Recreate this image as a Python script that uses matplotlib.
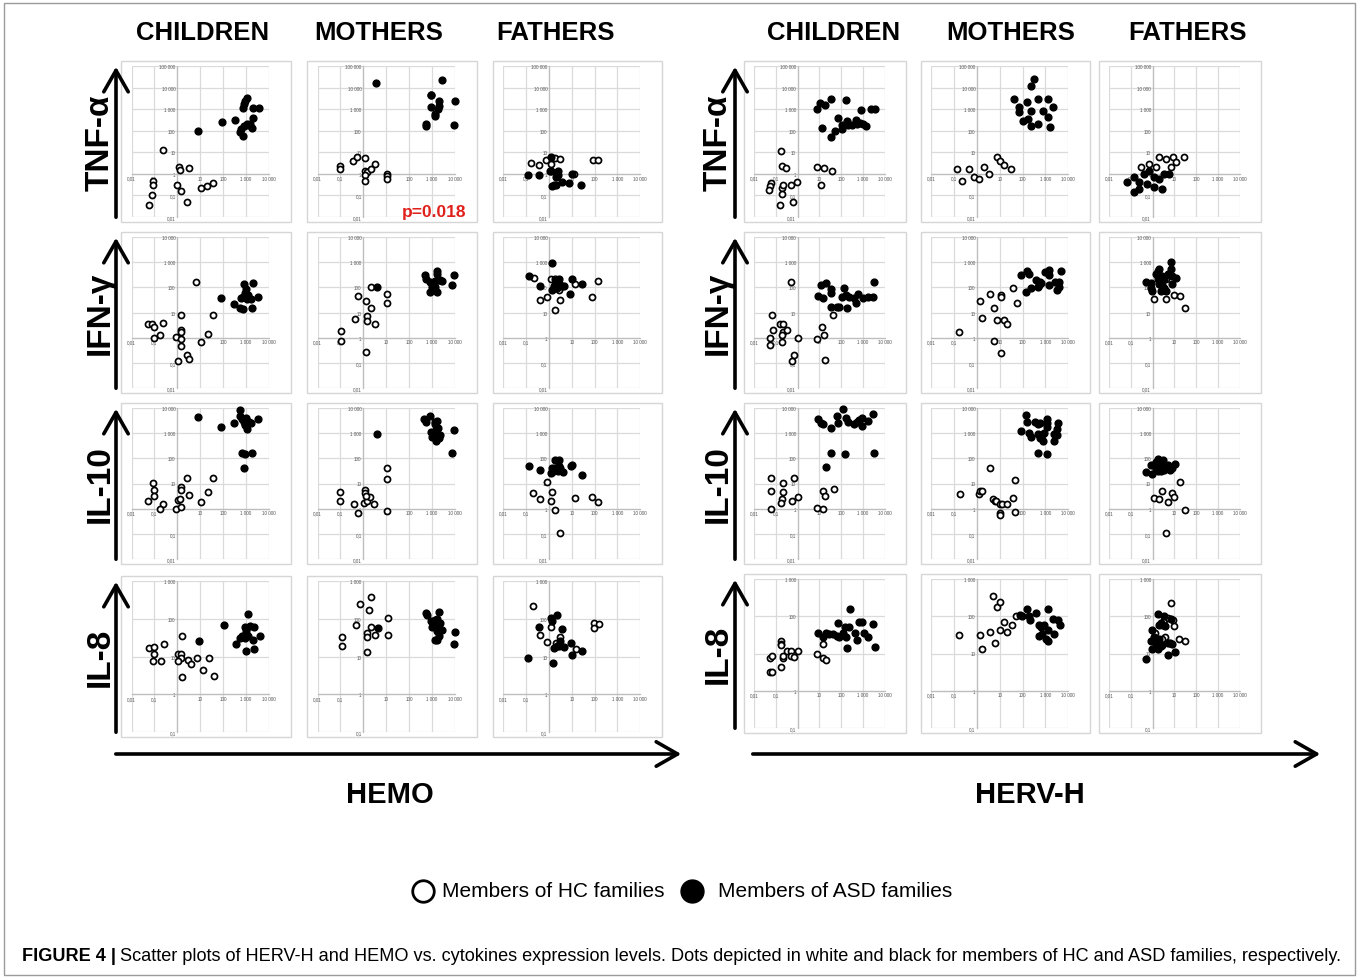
import matplotlib
matplotlib.use("Agg")
import matplotlib.pyplot as plt
from matplotlib.patches import Rectangle, FancyArrowPatch
from matplotlib.lines import Line2D
from matplotlib.ticker import NullLocator

plt.rcParams['font.family'] = ['Liberation Sans', 'DejaVu Sans']

# (HEMO or HERV-H expression, cytokine expression) for each subject
# --- HEMO ---
hemo_children_tnf_hc = [(0.23, 12.5), (1.2, 2.0), (1.3, 1.5), (3.3, 1.8), (0.09, 0.46), (0.09, 0.29), (0.08, 0.11),
                        (0.058, 0.035), (0.93, 0.30), (1.4, 0.16), (2.6, 0.049), (11, 0.21), (20, 0.27), (37, 0.36)]
hemo_children_tnf_asd = [(7.8, 100), (93, 250), (330, 320), (1100, 3300), (950, 2500), (800, 1800), (760, 1150),
                         (2100, 1150), (3800, 1150), (1950, 400), (1070, 195), (810, 160), (1500, 195), (1800, 135),
                         (590, 115), (550, 90), (760, 56), (1250, 175)]
hemo_mothers_tnf_hc = [(0.1, 2.4), (0.1, 1.7), (0.36, 3.8), (0.55, 6.3), (1.2, 5.5), (1.2, 1.4), (1.5, 1.2), (2.1, 1.7),
                       (3.2, 2.8), (1.2, 0.84), (1.2, 0.48), (11, 1.0), (11, 0.8), (11, 0.6)]
hemo_mothers_tnf_asd = [(3.7, 16000), (2750, 22000), (870, 4600), (950, 4600), (930, 1300), (1950, 2400), (1950, 1400),
                        (1800, 1000), (1300, 590), (1400, 500), (560, 200), (520, 170), (9300, 180), (10000, 2400)]
hemo_fathers_tnf_hc = [(0.17, 3.2), (0.36, 2.6), (0.76, 4.5), (1.2, 2.9), (1.8, 5.3), (2.9, 5.0), (13, 1.0), (83, 4.2),
                       (140, 4.2)]
hemo_fathers_tnf_asd = [(0.12, 0.84), (0.36, 0.84), (1.26, 6.3), (1.07, 1.4), (1.25, 1.3), (2.5, 1.3), (2.5, 0.84),
                        (2.1, 0.7), (1.6, 0.29), (2.1, 0.29), (3.8, 0.44), (7.9, 0.38), (10, 1.0), (26, 0.29), (1.4, 0.28)]

hemo_children_ifn_hc = [(6.6, 160), (0.055, 3.4), (0.078, 3.6), (0.093, 2.6), (0.24, 3.8), (0.093, 0.97), (0.17, 1.3),
                        (1.4, 7.6), (1.4, 2.1), (1.4, 1.7), (0.9, 1.03), (1.4, 0.91), (1.4, 0.47), (1.07, 0.12),
                        (2.6, 0.2), (3.3, 0.14), (11, 0.67), (21, 1.35), (35, 7.6)]
hemo_children_ifn_asd = [(84, 37), (300, 22), (530, 15.5), (760, 14), (810, 138), (960, 87), (1950, 150), (760, 41),
                         (960, 41), (1230, 50), (1150, 35), (1600, 33), (3500, 43), (1800, 15.5), (600, 37), (860, 60)]
hemo_mothers_ifn_hc = [(0.11, 1.8), (0.11, 0.74), (0.42, 5.3), (0.6, 47), (1.3, 28), (1.4, 7.0), (1.5, 4.8),
                       (2.1, 15.5), (2.1, 100), (3.3, 3.6), (11, 52), (11, 24), (1.3, 0.26)]
hemo_mothers_ifn_asd = [(4.0, 100), (480, 320), (570, 220), (1600, 460), (1600, 350), (810, 160), (960, 100), (810, 68),
                        (1400, 185), (1900, 200), (2300, 190), (1600, 68), (1300, 100), (9300, 320), (7800, 125),
                        (2700, 185)]
hemo_fathers_ifn_hc = [(0.21, 230), (0.39, 32), (0.78, 41), (1.2, 205), (1.9, 13), (2.9, 32), (14, 137), (145, 175),
                       (80, 41), (2.8, 75)]
hemo_fathers_ifn_asd = [(0.13, 275), (0.39, 117), (1.3, 900), (1.3, 75), (1.7, 117), (2.2, 160), (2.8, 218),
                        (2.8, 137), (1.9, 218), (3.7, 117), (4.5, 110), (2.2, 93), (1.6, 93), (10, 218), (8.1, 55),
                        (28, 137)]

hemo_children_il10_hc = [(0.084, 10.6), (0.093, 5.4), (0.093, 3.1), (0.055, 2.0), (0.24, 1.5), (0.17, 0.94),
                         (1.4, 7.3), (1.4, 5.4), (1.07, 2.2), (1.3, 2.5), (0.9, 1.0), (1.4, 1.2), (2.6, 16),
                         (3.4, 3.4), (11, 1.9), (21, 4.6), (35, 16)]
hemo_children_il10_asd = [(8.1, 4300), (84, 1800), (300, 2500), (530, 8600), (530, 4600), (680, 3700), (810, 2900),
                          (960, 3900), (1150, 3100), (1380, 2900), (1600, 2500), (870, 2100), (1070, 1450),
                          (3300, 3600), (680, 165), (870, 150), (1900, 165), (810, 43)]
hemo_mothers_il10_hc = [(0.1, 4.5), (0.1, 2.1), (0.38, 1.5), (0.59, 0.69), (1.2, 5.7), (1.2, 4.2), (1.07, 1.65),
                        (1.4, 2.1), (1.9, 2.9), (3.0, 1.5), (10.5, 43), (10.5, 14.5), (10.5, 0.83), (1.3, 3.1)]
hemo_mothers_il10_asd = [(3.9, 910), (450, 3700), (520, 2900), (810, 5000), (1300, 2900), (1600, 3000), (1300, 2300),
                         (1800, 1550), (1450, 1300), (890, 1070), (960, 710), (1150, 890), (1600, 650), (2300, 830),
                         (2100, 650), (1450, 475), (8700, 1320), (7300, 165)]
hemo_fathers_il10_hc = [(0.19, 4.2), (0.39, 2.4), (0.78, 11), (1.3, 4.6), (1.2, 2.1), (1.9, 0.88), (2.9, 0.107),
                        (13.6, 2.6), (80, 2.9), (148, 1.9)]
hemo_fathers_il10_asd = [(0.13, 48), (0.39, 35), (1.3, 29), (1.6, 35), (1.9, 43), (2.5, 31), (3.2, 43), (4.0, 29),
                         (1.3, 43), (2.8, 50), (1.9, 89), (2.8, 89), (9, 50), (10.7, 52), (28, 22), (1.2, 25)]

hemo_children_il8_hc = [(0.059, 17), (0.1, 18), (0.1, 11.5), (0.091, 7.6), (0.19, 7.6), (0.26, 21), (1.55, 34),
                        (1.1, 12), (1.4, 12), (1.5, 9.2), (1.1, 7.6), (3.0, 8.3), (3.8, 6.5), (7.4, 8.9), (1.55, 2.9),
                        (12.6, 4.3), (25, 8.9), (41, 3.1)]
hemo_children_il8_asd = [(9.1, 26), (107, 70), (355, 22), (1230, 130), (870, 59), (970, 51), (1440, 65), (2150, 60),
                         (1030, 42), (690, 35), (870, 31), (1230, 34), (570, 31), (2000, 28), (4200, 35), (970, 14),
                         (2150, 15.5)]
hemo_mothers_il8_hc = [(0.12, 32), (0.12, 19.5), (0.47, 70), (0.7, 240), (1.5, 13), (1.4, 41), (1.4, 32), (1.75, 175),
                       (2.2, 370), (2.2, 59), (3.4, 37), (11.5, 107), (11.5, 37)]
hemo_mothers_il8_asd = [(4.3, 57), (540, 142), (610, 122), (950, 87), (1120, 76), (1050, 59), (1320, 90), (1550, 70),
                        (1660, 100), (2000, 152), (2000, 57), (1660, 46), (2200, 76), (2800, 50), (1320, 28),
                        (1660, 28), (2000, 35), (9700, 45), (8700, 22)]
hemo_fathers_il8_hc = [(0.19, 220), (0.39, 37), (0.8, 24), (1.2, 62), (1.95, 23), (3.0, 32), (15, 16), (93, 76),
                       (93, 56), (155, 73)]
hemo_fathers_il8_asd = [(0.12, 9), (0.36, 62), (1.26, 105), (1.4, 85), (2.3, 123), (1.65, 17), (2.2, 19.5),
                        (1.55, 6.9), (3.0, 26), (2.75, 19), (3.8, 53), (4.5, 18), (8.9, 23), (10.5, 11), (29, 13.7)]

# --- HERV-H ---
herv_children_tnf_hc = [(0.18, 12), (0.2, 2.2), (0.3, 1.8), (0.057, 0.37), (0.053, 0.26), (0.05, 0.17), (0.19, 0.22),
                        (0.21, 0.29), (0.2, 0.115), (0.15, 0.037), (0.5, 0.29), (0.64, 0.052), (0.93, 0.44),
                        (7.4, 2.0), (16, 1.8), (37, 1.4), (12, 0.31)]
herv_children_tnf_asd = [(7.9, 1000), (11, 2000), (17, 1500), (32, 2900), (160, 2700), (13, 128), (32, 53), (53, 96),
                         (68, 370), (105, 120), (112, 180), (180, 290), (210, 180), (300, 180), (450, 330), (550, 195),
                         (700, 230), (1000, 200), (1400, 165), (840, 900), (2400, 1000), (3500, 1070)]
herv_mothers_tnf_hc = [(0.135, 1.7), (0.22, 0.48), (0.74, 0.72), (2.0, 2.1), (3.3, 1.0), (7.4, 6.2), (10, 4.0),
                       (15, 2.6), (30, 1.7), (0.45, 1.7), (1.2, 0.6)]
herv_mothers_tnf_asd = [(330, 25000), (245, 12000), (41, 3000), (67, 1260), (150, 2100), (500, 3000), (1350, 3000),
                        (2200, 1260), (820, 830), (245, 830), (67, 740), (110, 280), (1350, 440), (500, 205),
                        (1650, 150), (245, 166), (180, 350)]
herv_fathers_tnf_hc = [(1.9, 6.2), (4.3, 4.9), (9, 6.2), (26, 6.2), (0.66, 2.9), (1.4, 2.1), (0.28, 2.1), (6.6, 2.1),
                       (12, 3.6)]
herv_fathers_tnf_asd = [(0.066, 0.43), (0.14, 0.73), (0.23, 0.43), (0.39, 1.0), (0.66, 1.4), (1.1, 0.73), (1.9, 0.59),
                        (3.2, 1.0), (5.4, 1.0), (0.53, 0.34), (1.1, 0.25), (2.6, 0.2), (0.23, 0.2), (0.14, 0.15)]

herv_children_ifn_hc = [(0.066, 7.8), (0.071, 2.0), (0.055, 1.0), (0.055, 0.49), (0.16, 3.6), (0.21, 3.6), (0.21, 1.7),
                        (0.32, 2.0), (0.19, 1.3), (0.19, 0.67), (0.5, 170), (1.0, 0.98), (0.68, 0.2), (0.53, 0.12),
                        (7.8, 0.91), (13.7, 2.7), (16, 1.3), (17, 0.135), (42, 7.8)]
herv_children_ifn_asd = [(8.7, 47), (11.5, 124), (19.5, 145), (15, 36), (35, 83), (35, 58), (32, 17), (66, 17),
                         (75, 17), (180, 14.5), (140, 91), (112, 42), (160, 50), (220, 42), (400, 36), (480, 23),
                         (570, 52), (960, 36), (1600, 42), (2750, 42), (3300, 160)]
herv_mothers_ifn_hc = [(0.17, 1.7), (1.3, 28), (1.6, 6.3), (3.8, 52), (5.4, 15.5), (7.3, 4.9), (11, 49), (11, 42),
                       (15, 5.2), (21, 3.4), (5.7, 0.71), (11, 0.25), (39, 97), (55, 23)]
herv_mothers_ifn_asd = [(87, 310), (140, 67), (160, 450), (200, 330), (245, 97), (400, 195), (500, 107), (570, 170),
                        (620, 150), (540, 125), (930, 425), (1400, 490), (1400, 310), (1400, 124), (2800, 160),
                        (3400, 78), (4000, 160), (4900, 450), (4000, 107)]
herv_fathers_ifn_hc = [(1.2, 35), (4.0, 35), (9.6, 50), (17, 45), (30, 14.7), (2.6, 130), (4.0, 210)]
herv_fathers_ifn_asd = [(0.5, 163), (0.84, 155), (0.9, 71), (0.84, 90), (1.4, 330), (1.7, 450), (2.0, 520), (1.7, 210),
                        (2.4, 240), (2.8, 280), (2.0, 130), (2.8, 112), (3.4, 90), (4.0, 71), (2.4, 71), (6.8, 1000),
                        (6.8, 520), (8.1, 280), (8.1, 130), (11.5, 240), (3.4, 210), (4.8, 330)]

herv_children_il10_hc = [(0.063, 17), (0.057, 5.0), (0.057, 1.0), (0.21, 10.7), (0.21, 4.6), (0.19, 2.4), (0.18, 1.7),
                         (0.55, 2.0), (0.71, 17), (1.04, 2.9), (8, 1.1), (14, 5.0), (15, 0.93), (18, 3.3), (44, 6.3)]
herv_children_il10_asd = [(9, 3500), (12, 2600), (15, 2400), (33, 1580), (66, 4900), (70, 2600), (123, 9300),
                          (160, 3900), (210, 2800), (380, 2400), (500, 2800), (660, 3300), (930, 3900), (930, 1860),
                          (1600, 3100), (2700, 5700), (33, 170), (150, 150), (3200, 170), (19.5, 45)]
herv_mothers_il10_hc = [(0.18, 4.0), (1.2, 3.7), (1.4, 5.0), (1.7, 5.0), (3.7, 42), (5.2, 2.4), (6.0, 2.0), (7.1, 2.0),
                        (10.3, 1.5), (13, 1.5), (20, 1.5), (10.3, 0.68), (10.3, 0.58), (37, 2.6), (49, 13.5),
                        (49, 0.72)]
herv_mothers_il10_asd = [(138, 5400), (150, 2800), (85, 1170), (200, 1000), (240, 700), (370, 2800), (490, 2400),
                         (580, 2600), (460, 170), (490, 910), (690, 850), (580, 660), (760, 500), (910, 980),
                         (1150, 3500), (1150, 2600), (1250, 1740), (1150, 150), (2300, 910), (3200, 850), (3200, 1500),
                         (2300, 475), (3800, 2600)]
herv_fathers_il10_hc = [(1.2, 2.6), (1.9, 2.4), (2.8, 5.0), (4.8, 1.9), (7.5, 4.3), (9.5, 3.0), (17, 11.5), (29, 0.91),
                        (4.0, 0.11)]
herv_fathers_il10_asd = [(0.47, 28), (0.84, 52), (0.93, 23), (1.4, 72), (1.7, 91), (1.9, 62), (2.4, 52), (2.8, 42),
                         (2.0, 38), (1.4, 38), (1.2, 52), (3.4, 35), (4.0, 42), (4.8, 52), (6.1, 35), (7.5, 42),
                         (10.6, 58), (1.7, 30), (2.4, 30), (3.0, 85)]

herv_children_il8_hc = [(0.053, 7.7), (0.068, 8.7), (0.056, 3.1), (0.068, 3.1), (0.17, 21), (0.17, 18), (0.17, 16.6),
                        (0.17, 4.3), (0.21, 7.7), (0.21, 8.7), (0.33, 12), (0.5, 12), (0.5, 8.7), (0.71, 8.3),
                        (1.03, 12), (8.1, 10), (14, 18), (15, 7.7), (19.5, 6.6)]
herv_children_il8_asd = [(9, 35), (15, 27), (20, 35), (28, 34), (43, 34), (61, 30), (81, 27), (73, 65), (123, 35),
                         (147, 52), (163, 27), (175, 14), (230, 52), (247, 155), (420, 35), (535, 23), (660, 68),
                         (930, 72), (1070, 35), (1680, 28), (2830, 62), (3630, 15)]
herv_mothers_il8_hc = [(0.17, 32), (1.3, 32), (1.6, 13), (3.8, 38), (5.3, 350), (6.1, 19.5), (7.6, 173), (10.7, 240),
                       (10.7, 42), (15, 72), (21, 38), (36, 60), (50, 100)]
herv_mothers_il8_asd = [(78, 105), (93, 100), (158, 155), (186, 100), (224, 81), (400, 124), (525, 58), (630, 52),
                        (700, 34), (525, 30), (890, 58), (1260, 155), (1260, 42), (1260, 22), (1070, 24), (2140, 84),
                        (2500, 34), (3550, 81), (4260, 58)]
herv_fathers_il8_hc = [(1.3, 35), (1.4, 22), (2.8, 59), (3.4, 77), (3.8, 28), (2.7, 24), (4.8, 91), (6.8, 220),
                       (8.7, 77), (9.6, 54), (16, 25), (30, 22)]
herv_fathers_il8_asd = [(0.47, 7.1), (0.93, 43), (0.84, 22), (0.93, 13), (1.2, 28), (1.4, 18), (1.7, 114), (2.0, 59),
                        (2.4, 66), (1.7, 13), (2.0, 25), (2.8, 17), (3.4, 102), (3.8, 54), (4.8, 19), (6.1, 19),
                        (6.8, 83), (8.1, 18), (4.8, 9.3), (10.7, 11), (2.4, 16)]

cytokines = ["TNF-α", "IFN-γ", "IL-10", "IL-8"]
members = ["CHILDREN", "MOTHERS", "FATHERS"]

x_ticks = [0.01, 0.1, 1, 10, 100, 1000, 10000]
x_ticklabels = ["0,01", "0,1", "", "10", "100", "1 000", "10 000"]
y_ticks_by_row = [
    [0.01, 0.1, 1, 10, 100, 1000, 10000, 100000],
    [0.01, 0.1, 1, 10, 100, 1000, 10000],
    [0.01, 0.1, 1, 10, 100, 1000, 10000],
    [0.1, 1, 10, 100, 1000],
]
tick_text = {0.01: "0,01", 0.1: "0,1", 1: "1", 10: "10", 100: "100", 1000: "1 000", 10000: "10 000",
             100000: "100 000"}

hemo_grid = [
    [(hemo_children_tnf_hc, hemo_children_tnf_asd), (hemo_mothers_tnf_hc, hemo_mothers_tnf_asd),
     (hemo_fathers_tnf_hc, hemo_fathers_tnf_asd)],
    [(hemo_children_ifn_hc, hemo_children_ifn_asd), (hemo_mothers_ifn_hc, hemo_mothers_ifn_asd),
     (hemo_fathers_ifn_hc, hemo_fathers_ifn_asd)],
    [(hemo_children_il10_hc, hemo_children_il10_asd), (hemo_mothers_il10_hc, hemo_mothers_il10_asd),
     (hemo_fathers_il10_hc, hemo_fathers_il10_asd)],
    [(hemo_children_il8_hc, hemo_children_il8_asd), (hemo_mothers_il8_hc, hemo_mothers_il8_asd),
     (hemo_fathers_il8_hc, hemo_fathers_il8_asd)],
]
herv_grid = [
    [(herv_children_tnf_hc, herv_children_tnf_asd), (herv_mothers_tnf_hc, herv_mothers_tnf_asd),
     (herv_fathers_tnf_hc, herv_fathers_tnf_asd)],
    [(herv_children_ifn_hc, herv_children_ifn_asd), (herv_mothers_ifn_hc, herv_mothers_ifn_asd),
     (herv_fathers_ifn_hc, herv_fathers_ifn_asd)],
    [(herv_children_il10_hc, herv_children_il10_asd), (herv_mothers_il10_hc, herv_mothers_il10_asd),
     (herv_fathers_il10_hc, herv_fathers_il10_asd)],
    [(herv_children_il8_hc, herv_children_il8_asd), (herv_mothers_il8_hc, herv_mothers_il8_asd),
     (herv_fathers_il8_hc, herv_fathers_il8_asd)],
]

W, H = 1360, 979
fig = plt.figure(figsize=(W / 100, H / 100), dpi=100)


def fx(x):
    return x / W


def fy(y):
    return 1 - y / H


# panel boxes in pixels (left, right) and (top, bottom)
hemo_cols = [(121, 291), (307, 477), (493, 662)]
herv_cols = [(744, 906), (921, 1090), (1099, 1261)]
hemo_rows = [(62, 223), (233, 394), (404, 565), (577, 738)]
herv_rows = [(62, 223), (233, 394), (404, 565), (575, 734)]
hemo_header_x = [203, 379, 555]
herv_header_x = [834, 1011, 1187]


def draw_panel(x0, x1, y0, y1, hc, asd, yt):
    fig.add_artist(Rectangle((fx(x0), fy(y1)), fx(x1 - x0), (y1 - y0) / H, transform=fig.transFigure,
                             facecolor="white", edgecolor="#d6d6d6", lw=1.0, zorder=-5))
    left = x0 + 0.062 * (x1 - x0)
    right = x0 + 0.87 * (x1 - x0)
    top, bottom = y0 + 5, y1 - 5
    ax = fig.add_axes([fx(left), fy(bottom), (right - left) / W, (bottom - top) / H])
    ax.set_xscale("log")
    ax.set_yscale("log")
    ax.set_xlim(0.01, 10000)
    ax.set_ylim(yt[0], yt[-1])
    ax.set_xticks(x_ticks)
    ax.set_xticklabels(x_ticklabels)
    ax.set_yticks(yt)
    ax.set_yticklabels([tick_text[v] for v in yt])
    ax.xaxis.set_minor_locator(NullLocator())
    ax.yaxis.set_minor_locator(NullLocator())
    ax.tick_params(length=0, labelsize=3.3, labelcolor="#555555", pad=1.2)
    for s in ("top", "right"):
        ax.spines[s].set_visible(False)
    for s in ("left", "bottom"):
        ax.spines[s].set_position(("data", 1))
        ax.spines[s].set_color("#bdbdbd")
        ax.spines[s].set_linewidth(0.9)
    ax.grid(True, color="#dadada", lw=0.9)
    ax.set_axisbelow(True)
    ax.scatter([p[0] for p in hc], [p[1] for p in hc], s=19, facecolors="white", edgecolors="black",
               linewidths=1.25, zorder=3, clip_on=False)
    ax.scatter([p[0] for p in asd], [p[1] for p in asd], s=24, color="black", zorder=4, clip_on=False)
    return ax


for grid, cols, rows in ((hemo_grid, hemo_cols, hemo_rows), (herv_grid, herv_cols, herv_rows)):
    for r, (y0, y1) in enumerate(rows):
        for c, (x0, x1) in enumerate(cols):
            hc, asd = grid[r][c]
            draw_panel(x0, x1, y0, y1, hc, asd, y_ticks_by_row[r])

# p-value for the HEMO / mothers / TNF-α panel
fig.text(fx(466), fy(213), "p=0.018", color="#e0201b", fontsize=12.5, fontweight="bold",
         ha="right", va="center")

# column headers
for xs in (hemo_header_x, herv_header_x):
    for xc, name in zip(xs, members):
        fig.text(fx(xc), fy(33), name, fontsize=18.5, fontweight="bold", ha="center", va="center")

# row labels and vertical arrows
for lab_x, arr_x, rows in ((100, 116, hemo_rows), (718, 735, herv_rows)):
    for (y0, y1), name in zip(rows, cytokines):
        fig.text(fx(lab_x), fy((y0 + y1) / 2), name, fontsize=24, fontweight="bold", rotation=90,
                 ha="center", va="center")
        fig.add_artist(FancyArrowPatch((fx(arr_x), fy(y1 - 2)), (fx(arr_x), fy(y0 + 3)),
                                       transform=fig.transFigure, arrowstyle="->,head_length=0.7,head_width=0.4",
                                       mutation_scale=22, lw=2.6, color="black"))

# horizontal arrows and x labels
for (xa, xb), name, xc in (((113, 684), "HEMO", 390), ((750, 1323), "HERV-H", 1030)):
    fig.add_artist(FancyArrowPatch((fx(xa), fy(755)), (fx(xb), fy(755)), transform=fig.transFigure,
                                   arrowstyle="->,head_length=0.7,head_width=0.4", mutation_scale=22,
                                   lw=2.6, color="black"))
    fig.text(fx(xc), fy(795), name, fontsize=21, fontweight="bold", ha="center", va="center")

# legend
fig.add_artist(Line2D([fx(423)], [fy(892)], marker="o", ms=15.5, mfc="white", mec="black", mew=2.0,
                      transform=fig.transFigure))
fig.text(fx(442), fy(892), "Members of HC families", fontsize=15, ha="left", va="center")
fig.add_artist(Line2D([fx(692)], [fy(892)], marker="o", ms=16.5, mfc="black", mec="black",
                      transform=fig.transFigure))
fig.text(fx(718), fy(892), "Members of ASD families", fontsize=15, ha="left", va="center")

# caption, sized to fit between the frame edges
cap_left, cap_right, cap_fs = 22, 1338, 13.5
t1 = fig.text(fx(cap_left), fy(957), "FIGURE 4 |", fontsize=cap_fs, fontweight="bold", ha="left", va="center")
t2 = fig.text(0, fy(957),
              "Scatter plots of HERV-H and HEMO vs. cytokines expression levels. Dots depicted in white and black "
              "for members of HC and ASD families, respectively.",
              fontsize=cap_fs, ha="left", va="center")
fig.canvas.draw()
r = fig.canvas.get_renderer()
total = t1.get_window_extent(r).width + 5 + t2.get_window_extent(r).width
cap_fs *= (cap_right - cap_left) / total
t1.set_fontsize(cap_fs)
t2.set_fontsize(cap_fs)
fig.canvas.draw()
t2.set_x(fx(cap_left + t1.get_window_extent(r).width + 4))

# outer frame of the figure
fig.add_artist(Rectangle((fx(4), fy(976)), fx(1351), 972 / H, transform=fig.transFigure,
                         facecolor="none", edgecolor="#9a9a9a", lw=1.0, zorder=-6))

fig.savefig("out.png", dpi=100)
